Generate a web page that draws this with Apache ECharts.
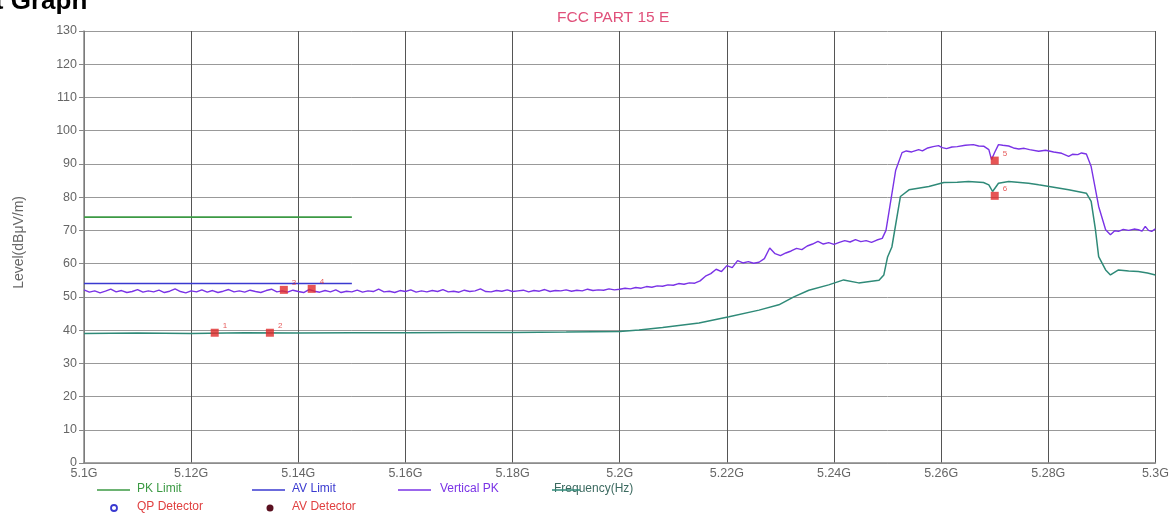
<!DOCTYPE html>
<html>
<head>
<meta charset="utf-8">
<script src="https://cdn.jsdelivr.net/npm/echarts@6/dist/echarts.min.js"></script>
<style>html,body{margin:0;padding:0;background:#fff}#c{width:1172px;height:529px}</style>
</head>
<body>
<div id="c"></div>
<script>
// ---- data ----
const xTickFormat = v => (+v.toFixed(2)) + 'G';
const pkLimit = [[5.10, 74], [5.15, 74]];
const avLimit = [[5.10, 54], [5.15, 54]];
const verticalPK = [
 [5.100,52.1],[5.101,51.4],[5.102,51.8],[5.103,51.2],[5.104,51.7],[5.105,52.3],[5.106,51.5],[5.107,51.9],[5.108,51.3],[5.109,51.6],
 [5.110,52.2],[5.111,51.4],[5.112,51.8],[5.113,51.5],[5.114,52.0],[5.115,51.3],[5.116,51.7],[5.117,52.4],[5.118,51.6],[5.119,51.2],
 [5.120,51.8],[5.121,51.5],[5.122,52.1],[5.123,51.4],[5.124,51.9],[5.125,51.3],[5.126,51.7],[5.127,52.2],[5.128,51.5],[5.129,51.8],
 [5.130,51.4],[5.131,52.0],[5.132,51.6],[5.133,51.3],[5.134,51.9],[5.135,52.3],[5.136,51.5],[5.137,51.8],[5.138,51.4],[5.139,52.0],
 [5.140,51.6],[5.141,51.3],[5.142,52.2],[5.143,51.7],[5.144,51.4],[5.145,51.9],[5.146,51.5],[5.147,52.1],[5.148,51.3],[5.149,51.7],
 [5.150,51.5],[5.151,52.0],[5.152,51.4],[5.153,51.8],[5.154,51.6],[5.155,52.3],[5.156,51.5],[5.157,51.7],[5.158,51.3],[5.159,51.9],
 [5.160,51.6],[5.161,52.1],[5.162,51.4],[5.163,51.8],[5.164,51.5],[5.165,51.9],[5.166,51.6],[5.167,52.2],[5.168,51.5],[5.169,51.7],
 [5.170,51.4],[5.171,52.0],[5.172,51.6],[5.173,51.8],[5.174,52.4],[5.175,51.6],[5.176,51.5],[5.177,51.9],[5.178,51.7],[5.179,52.1],
 [5.180,51.6],[5.181,51.8],[5.182,52.0],[5.183,51.5],[5.184,51.9],[5.185,51.7],[5.186,52.2],[5.187,51.6],[5.188,51.9],[5.189,51.8],
 [5.190,52.1],[5.191,51.7],[5.192,52.0],[5.193,51.8],[5.194,52.3],[5.195,51.9],[5.196,52.1],[5.197,52.0],[5.198,52.4],[5.199,52.1],
 [5.200,52.3],[5.201,52.6],[5.202,52.4],[5.203,52.8],[5.204,52.6],[5.205,53.1],[5.206,52.9],[5.207,53.3],[5.208,53.2],[5.209,53.6],
 [5.210,53.5],[5.211,54.0],[5.212,53.8],[5.213,54.2],[5.214,54.1],[5.215,54.8],[5.216,56.2],[5.217,57.0],[5.218,58.3],[5.219,57.6],
 [5.220,59.4],[5.221,58.8],[5.222,60.9],[5.223,60.2],[5.224,60.6],[5.225,60.1],[5.226,60.4],[5.227,61.5],[5.228,64.7],[5.229,63.0],
 [5.230,62.4],[5.231,63.2],[5.232,63.8],[5.233,64.6],[5.234,64.2],[5.235,65.3],[5.236,65.9],[5.237,66.7],[5.238,65.9],[5.239,66.3],
 [5.240,65.8],[5.241,66.4],[5.242,66.9],[5.243,66.5],[5.244,67.2],[5.245,66.6],[5.246,66.9],[5.247,66.4],[5.248,67.1],[5.249,67.6],
 [5.2497,70.0],[5.2502,75.0],[5.2515,88.0],[5.2527,93.4],[5.2535,93.9],[5.2545,93.6],[5.2558,94.3],[5.2565,93.9],[5.2575,94.8],
 [5.2585,95.2],[5.2595,95.5],[5.2602,94.9],[5.2610,94.6],[5.2620,95.1],[5.2630,95.2],[5.2645,95.6],[5.2660,95.8],[5.2670,95.4],
 [5.2680,95.3],[5.2689,94.3],[5.2694,91.3],[5.2700,93.5],[5.2707,95.8],[5.2715,95.6],[5.2726,95.4],[5.2735,94.8],[5.2745,94.5],
 [5.2755,94.7],[5.2765,94.3],[5.2782,93.8],[5.2795,94.1],[5.2810,93.6],[5.2825,93.2],[5.2838,92.3],[5.2845,92.9],[5.2855,92.8],
 [5.2862,93.3],[5.2871,93.0],[5.2880,89.2],[5.2894,77.2],[5.2907,70.2],[5.2916,68.7],[5.2924,69.9],[5.2931,69.7],[5.2940,70.3],
 [5.2950,70.0],[5.2960,70.4],[5.2968,70.2],[5.2975,69.8],[5.2981,71.2],[5.2987,70.0],[5.2993,69.7],[5.3000,70.5]
];
const verticalAV = [
 [5.100,39.0],[5.110,39.1],[5.120,39.0],[5.130,39.2],[5.140,39.1],[5.150,39.2],[5.160,39.2],[5.170,39.3],[5.180,39.3],
 [5.190,39.4],[5.200,39.6],[5.2036,40.0],[5.208,40.8],[5.2148,42.1],[5.2204,44.0],[5.226,46.0],[5.2297,47.6],
 [5.2325,50.0],[5.2353,52.0],[5.239,53.6],[5.2418,55.1],[5.2446,54.2],[5.2484,55.0],[5.2493,56.6],[5.250,62.0],
 [5.2508,65.0],[5.2524,80.2],[5.254,82.2],[5.2577,83.2],[5.2605,84.4],[5.263,84.5],[5.2651,84.7],[5.2679,84.4],
 [5.2689,83.7],[5.2696,81.7],[5.2707,84.2],[5.2726,84.7],[5.2763,84.2],[5.2782,83.7],[5.281,83.0],[5.2838,82.2],
 [5.2871,81.2],[5.288,78.7],[5.2888,70.2],[5.2894,62.1],[5.2907,58.1],[5.2916,56.6],[5.2931,58.1],[5.295,57.8],
 [5.2968,57.6],[5.2985,57.2],[5.300,56.6]
];
const markers = [
 [5.1244,39.2,'1'],[5.1347,39.2,'2'],[5.1373,52.1,'3'],[5.1425,52.4,'4'],[5.2700,91.0,'5'],[5.2700,80.4,'6']
];
const yTicks = [0,10,20,30,40,50,60,70,80,90,100,110,120,130];

// ---- chart ----
const chart = echarts.init(document.getElementById('c'), null, {renderer:'canvas'});
const font = 'Liberation Sans, Arial, sans-serif';
chart.setOption({
  animation:false,
  backgroundColor:'#fff',
  grid:{left:84,right:15,top:31,bottom:66,show:false},
  xAxis:{type:'value',min:5.1,max:5.3,interval:0.02,
    axisLine:{onZero:false,lineStyle:{color:'#888',width:1.5}},
    axisTick:{show:false},
    axisLabel:{formatter:xTickFormat,color:'#666',fontFamily:font,fontSize:12.5,margin:4},
    splitLine:{show:true,lineStyle:{color:'#555',width:1}}},
  yAxis:{type:'value',min:yTicks[0],max:yTicks[yTicks.length-1],interval:10,
    axisLine:{show:true,lineStyle:{color:'#888',width:1.5}},
    axisTick:{show:true,length:5,inside:false,lineStyle:{color:'#888'}},
    axisLabel:{color:'#666',fontFamily:font,fontSize:12.5,margin:7},
    splitLine:{show:true,lineStyle:{color:'#999',width:1}}},
  series:[
    {name:'PK Limit',type:'line',data:pkLimit,symbol:'none',lineStyle:{color:'#3c9a44',width:1.6},z:3},
    {name:'AV Limit',type:'line',data:avLimit,symbol:'none',lineStyle:{color:'#3a3ad0',width:1.6},z:3},
    {name:'Vertical AV',type:'line',data:verticalAV,symbol:'none',lineStyle:{color:'#2f8a78',width:1.5},z:4},
    {name:'Vertical PK',type:'line',data:verticalPK,symbol:'none',lineStyle:{color:'#7a33e6',width:1.4},z:4},
    {name:'Markers',type:'scatter',data:markers,symbol:'rect',symbolSize:8,
      itemStyle:{color:'#e02a2a'},z:6,
      label:{show:true,formatter:p=>p.data[2],position:'right',offset:[-1,-7],color:'#e03030',fontSize:8,fontFamily:font}}
  ],
  graphic:[
    {type:'text',left:-48,top:-11,style:{text:'Test Graph',font:'bold 26px '+font,fill:'#000'}},
    {type:'text',left:557,top:10,style:{text:'FCC PART 15 E',font:'15.5px '+font,fill:'#e0507a'}},
    {type:'text',left:12,top:196,rotation:Math.PI/2,style:{text:'Level(dBμV/m)',font:'14px '+font,fill:'#666'}},
    // legend row 1
    {type:'line',shape:{x1:97,y1:490,x2:130,y2:490},style:{stroke:'#3c9a44',lineWidth:1.5}},
    {type:'text',left:137,top:483,style:{text:'PK Limit',font:'12px '+font,fill:'#3c9a44'}},
    {type:'line',shape:{x1:252,y1:490,x2:285,y2:490},style:{stroke:'#3a3ad0',lineWidth:1.5}},
    {type:'text',left:292,top:483,style:{text:'AV Limit',font:'12px '+font,fill:'#3a3ad0'}},
    {type:'line',shape:{x1:398,y1:490,x2:431,y2:490},style:{stroke:'#7a33e6',lineWidth:1.5}},
    {type:'text',left:440,top:483,style:{text:'Vertical PK',font:'12px '+font,fill:'#7a33e6'}},
    {type:'text',left:554,top:483,style:{text:'Frequency(Hz)',font:'12px '+font,fill:'#3c6a60'}},
    {type:'line',shape:{x1:552,y1:490,x2:580,y2:490},style:{stroke:'#2f8a78',lineWidth:1.5}},
    // legend row 2
    {type:'circle',shape:{cx:114,cy:508,r:3},style:{fill:'#fff',stroke:'#3a3ad0',lineWidth:1.8}},
    {type:'text',left:137,top:501,style:{text:'QP Detector',font:'12px '+font,fill:'#e04040'}},
    {type:'circle',shape:{cx:270,cy:508,r:3.5},style:{fill:'#5a1020'}},
    {type:'text',left:292,top:501,style:{text:'AV Detector',font:'12px '+font,fill:'#e04040'}}
  ]
});
</script>
</body>
</html>
